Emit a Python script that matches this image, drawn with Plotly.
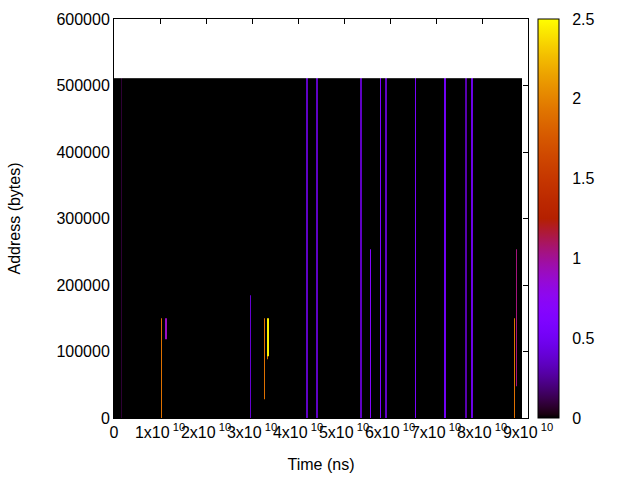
import math
import plotly.graph_objects as go

# ---- data ----
time_end = 8.87e10          # ns, right end of data
addr_top = 511000           # bytes, top of data

line_t_start = [0.152e10, 1.022e10, 1.109e10, 2.957e10, 3.261e10, 3.326e10, 3.326e10,
                4.174e10, 4.391e10, 5.348e10, 5.565e10, 5.783e10, 5.891e10, 6.543e10,
                7.174e10, 7.630e10, 7.761e10, 8.696e10, 8.739e10]
line_t_end = [0.174e10, 1.043e10, 1.152e10, 2.978e10, 3.283e10, 3.370e10, 3.348e10,
              4.217e10, 4.435e10, 5.391e10, 5.587e10, 5.804e10, 5.935e10, 6.565e10,
              7.217e10, 7.674e10, 7.804e10, 8.717e10, 8.761e10]
line_addr_low = [0, 0, 119000, 0, 28500, 93000, 89000,
                 0, 0, 0, 0, 0, 0, 0,
                 0, 0, 0, 0, 48500]
line_addr_high = [511000, 150000, 150000, 184000, 150000, 150000, 93000,
                  511000, 511000, 511000, 254000, 511000, 511000, 511000,
                  511000, 511000, 511000, 150000, 254000]
line_value = [0.08, 1.9, 0.9, 0.38, 1.9, 2.45, 1.9,
              0.35, 0.35, 0.35, 0.65, 0.6, 0.35, 0.55,
              0.5, 0.3, 0.45, 1.9, 1.05]

x_tick_vals = [0, 1e10, 2e10, 3e10, 4e10, 5e10, 6e10, 7e10, 8e10, 9e10]
x_tick_text = ["0"] + [f"{k}x10<sup> 10</sup>" for k in range(1, 10)]
y_tick_vals = [0, 100000, 200000, 300000, 400000, 500000, 600000]
cb_tick_vals = [0, 0.5, 1, 1.5, 2, 2.5]
cb_min, cb_max = 0, 2.5

# ---- build the heatmap grid from the line lists ----
xs = sorted(set([0.0, time_end] + line_t_start + line_t_end))
ys = sorted(set([0.0, float(addr_top)] + [float(v) for v in line_addr_low + line_addr_high]))
z = []
for j in range(len(ys) - 1):
    yc = 0.5 * (ys[j] + ys[j + 1])
    row = []
    for i in range(len(xs) - 1):
        xc = 0.5 * (xs[i] + xs[i + 1])
        v = 0.0
        for k in range(len(line_value)):
            if line_t_start[k] <= xc <= line_t_end[k] and line_addr_low[k] <= yc <= line_addr_high[k]:
                v = line_value[k]
        row.append(v)
    z.append(row)

# gnuplot default palette rgbformulae 7,5,15
def pal(t):
    r = math.sqrt(t)
    g = t ** 3
    b = max(0.0, math.sin(2 * math.pi * t))
    return f"rgb({round(255*r)},{round(255*g)},{round(255*min(b,1))})"

colorscale = [[i / 100, pal(i / 100)] for i in range(101)]

font = dict(family="Liberation Sans, Arial, sans-serif", size=16, color="black")

# plot area geometry (px)
plot_l, plot_r = 114, 528
cb_l, cb_w = 538, 21
pw = plot_r - plot_l

fig = go.Figure(go.Heatmap(
    x=xs, y=ys, z=z, zmin=cb_min, zmax=cb_max, colorscale=colorscale, zsmooth=False,
    colorbar=dict(
        x=(cb_l - plot_l) / pw, xanchor="left", xref="paper",
        y=0.5, yanchor="middle", len=1, lenmode="fraction",
        thickness=cb_w, thicknessmode="pixels", xpad=0, ypad=0,
        outlinewidth=1, outlinecolor="black",
        tickvals=cb_tick_vals, ticktext=["0", "0.5", "1", "1.5", "2", "2.5"],
        ticks="outside", ticklen=10, tickcolor="rgba(0,0,0,0)",
        tickfont=font,
    ),
    hoverinfo="skip",
))

# small inner tick marks on both edges of the colour box (gnuplot style)
tick_px = 4
for v in cb_tick_vals[1:-1]:
    yp = (v - cb_min) / (cb_max - cb_min)
    for x0, x1 in [(cb_l, cb_l + tick_px), (cb_l + cb_w - tick_px, cb_l + cb_w)]:
        fig.add_shape(type="line", xref="paper", yref="paper",
                      x0=(x0 - plot_l) / pw, x1=(x1 - plot_l) / pw, y0=yp, y1=yp,
                      line=dict(color="black", width=1), layer="above")

fig.update_layout(
    width=640, height=480,
    margin=dict(l=plot_l, r=640 - plot_r, t=19, b=62, autoexpand=False),
    paper_bgcolor="white", plot_bgcolor="white",
    font=font,
    xaxis=dict(
        range=[0, 9e10], tickvals=x_tick_vals, ticktext=x_tick_text, tickangle=0,
        ticks="inside", ticklen=5, tickcolor="black", automargin=False,
        showline=True, linecolor="black", linewidth=1, mirror="ticks",
        showgrid=False, zeroline=False,
        title=dict(text="Time (ns)", font=font, standoff=18),
        tickfont=font,
    ),
    yaxis=dict(
        range=[0, 600000], tickvals=y_tick_vals, ticktext=[str(v) for v in y_tick_vals],
        ticks="inside", ticklen=5, tickcolor="black", automargin=False,
        showline=True, linecolor="black", linewidth=1, mirror="ticks",
        showgrid=False, zeroline=False,
        title=dict(text="Address (bytes)", font=font, standoff=31),
        tickfont=font,
    ),
)

fig.write_html("out.html", config={"displayModeBar": False},
               post_script="document.body.style.margin='0px';")
